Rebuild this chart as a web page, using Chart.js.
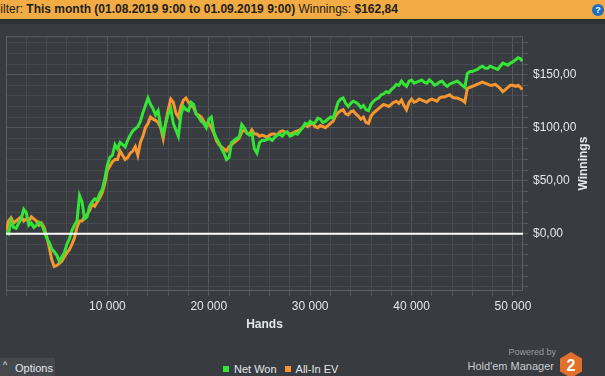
<!DOCTYPE html>
<html>
<head>
<meta charset="utf-8">
<script src="https://cdn.jsdelivr.net/npm/chart.js@4.4.1/dist/chart.umd.min.js"></script>
<style>
  html, body { margin: 0; padding: 0; width: 605px; height: 376px; overflow: hidden; background: #383b3f; font-family: "Liberation Sans", Arial, sans-serif; }
  #topbar { position: absolute; left: 0; top: 0; width: 605px; height: 19px; background: #f2ac43; color: #1e1e1e; font-size: 12px; line-height: 19px; white-space: nowrap; overflow: hidden; }
  #topbar .txt { position: absolute; left: -7px; top: 0; }
  #strip { position: absolute; left: 0; top: 19px; width: 605px; height: 5px; background: #2e3134; }
  #help { position: absolute; left: 592px; top: 4px; width: 12px; height: 12px; border-radius: 50%; background: #1b6cc4; color: #fff; font-size: 9px; font-weight: bold; text-align: center; line-height: 12px; }
  #wrap { position: absolute; left: 0; top: 24px; width: 605px; height: 320px; }
  #options { position: absolute; left: 0; top: 358px; width: 55px; height: 18px; background: #45484c; color: #e4e8ee; font-size: 11px; line-height: 18px; }
  #options .caret { position: absolute; left: 3px; top: -2px; font-size: 9px; }
  #options .lbl { position: absolute; left: 15px; top: 1px; }
  #legend { position: absolute; left: 223px; top: 362px; height: 14px; color: #e4e8ee; font-size: 11px; line-height: 14px; white-space: nowrap; }
  #legend span.sw { display: inline-block; width: 6px; height: 6px; margin-right: 5px; vertical-align: 1px; }
  #legend span.item { margin-right: 8px; }
  #powered { position: absolute; right: 49px; top: 347px; color: #9a9da2; font-size: 9px; text-align: right; }
  #hm { position: absolute; right: 51px; top: 360px; color: #c9ccd1; font-size: 11px; text-align: right; }
  #logo { position: absolute; left: 559px; top: 352px; }
</style>
</head>
<body>
<div id="topbar"><div class="txt">Filter: <b>This month (01.08.2019 9:00 to 01.09.2019 9:00)</b> Winnings: <b>$162,84</b></div><div id="help">?</div></div>
<div id="strip"></div>
<div id="wrap"><canvas id="chartCanvas" width="605" height="320"></canvas></div>
<div id="options"><span class="caret">^</span><span class="lbl">Options</span></div>
<div id="legend"></div>
<div id="powered">Powered by</div>
<div id="hm">Hold'em Manager</div>
<svg id="logo" width="24" height="26" viewBox="0 0 24 26">
  <polygon points="12,0 23,6.5 23,19.5 12,26 1,19.5 1,6.5" fill="#e0702a"/>
  <text x="12" y="19" text-anchor="middle" font-family="Liberation Sans, Arial, sans-serif" font-weight="bold" font-size="16" fill="#ffffff">2</text>
</svg>
<script>
(function() {
  'use strict';

  // hands played (x values)
  var hands = [
    0, 250, 500, 750, 1000, 1250, 1500, 1750, 2000, 2250, 2500, 2750, 3000, 3250, 3500, 3750, 4000, 4250, 4500, 4750,
    5000, 5250, 5500, 5750, 6000, 6250, 6500, 6750, 7000, 7250, 7500, 7750, 8000, 8250, 8500, 8750, 9000, 9250, 9500, 9750,
    10000, 10250, 10500, 10750, 11000, 11250, 11500, 11750, 12000, 12250, 12500, 12750, 13000, 13250, 13500, 13750, 14000, 14250, 14500, 14750,
    15000, 15250, 15500, 15750, 16000, 16250, 16500, 16750, 17000, 17250, 17500, 17750, 18000, 18250, 18500, 18750, 19000, 19250, 19500, 19750,
    20000, 20250, 20500, 20750, 21000, 21250, 21500, 21750, 22000, 22250, 22500, 22750, 23000, 23250, 23500, 23750, 24000, 24250, 24500, 24750,
    25000, 25250, 25500, 25750, 26000, 26250, 26500, 26750, 27000, 27250, 27500, 27750, 28000, 28250, 28500, 28750, 29000, 29250, 29500, 29750,
    30000, 30250, 30500, 30750, 31000, 31250, 31500, 31750, 32000, 32250, 32500, 32750, 33000, 33250, 33500, 33750, 34000, 34250, 34500, 34750,
    35000, 35250, 35500, 35750, 36000, 36250, 36500, 36750, 37000, 37250, 37500, 37750, 38000, 38250, 38500, 38750, 39000, 39250, 39500, 39750,
    40000, 40250, 40500, 40750, 41000, 41250, 41500, 41750, 42000, 42250, 42500, 42750, 43000, 43250, 43500, 43750, 44000, 44250, 44500, 44750,
    45000, 45250, 45500, 45750, 46000, 46250, 46500, 46750, 47000, 47250, 47500, 47750, 48000, 48250, 48500, 48750, 49000, 49250, 49500, 49750,
    50000, 50250, 50500, 50750, 50900
  ];

  var netWon = [
    2, 0, 12, 6, 5, 10, 14, 23, 20, 8, 10, 6, 8, 11, 9, 3, -4, -8, -14, -17,
    -20, -26, -22, -18, -10, -5, 3, 8, 12, 36, 30, 14, 16, 26, 30, 33, 32, 38, 42, 52,
    65, 72, 74, 84, 80, 86, 84, 82, 88, 93, 97, 99, 101, 106, 114, 121, 128, 122, 118, 112,
    116, 102, 94, 104, 113, 118, 104, 98, 92, 112, 120, 117, 116, 124, 122, 113, 110, 106, 104, 100,
    108, 110, 96, 90, 86, 80, 76, 70, 72, 86, 88, 90, 91, 103, 100, 95, 93, 95, 80, 76,
    86, 88, 88, 89, 90, 88, 91, 93, 94, 92, 95, 96, 92, 93, 95, 94, 97, 100, 104, 103,
    106, 104, 105, 109, 108, 105, 106, 108, 110, 109, 116, 124, 127, 128, 123, 120, 123, 125, 124, 122,
    119, 121, 117, 116, 122, 125, 127, 128, 131, 132, 134, 133, 136, 138, 141, 140, 144, 141, 139, 144,
    145, 142, 143, 144, 145, 143, 142, 145, 143, 140, 141, 143, 144, 141, 139, 141, 142, 143, 144, 142,
    140, 138, 151, 153, 153, 154, 155, 157, 158, 156, 156, 158, 157, 156, 155, 158, 161, 160, 159, 161,
    162, 164, 166, 165, 162.84
  ];

  var allInEv = [
    2, 12, 15, 10, 12, 14, 16, 12, 14, 12, 16, 14, 12, 8, 10, 6, -2, -12, -24, -31,
    -30, -28, -26, -22, -18, -15, -10, -4, 6, 12, 12, 16, 18, 22, 28, 26, 30, 34, 39, 48,
    60, 64, 68, 70, 70, 78, 74, 70, 72, 76, 78, 82, 74, 86, 92, 100, 104, 110, 108, 107,
    105, 100, 90, 105, 117, 127, 124, 114, 110, 120, 126, 128, 124, 121, 119, 113, 112, 110, 106, 102,
    104, 100, 95, 88, 84, 82, 80, 78, 82, 84, 86, 88, 90, 96, 98, 95, 94, 98, 94, 94,
    92, 93, 92, 91, 93, 94, 94, 93, 96, 97, 96, 95, 94, 95, 96, 97, 98, 100, 103, 101,
    103, 104, 101, 100, 102, 101, 100, 102, 104, 106, 111, 114, 116, 117, 113, 112, 115, 116, 113, 111,
    108, 110, 105, 104, 111, 114, 116, 118, 120, 122, 121, 120, 122, 124, 125, 123, 126, 121, 117, 124,
    127, 124, 125, 127, 126, 125, 124, 126, 127, 126, 125, 128, 129, 129, 130, 131, 129, 128, 128, 127,
    126, 124, 137, 138, 139, 140, 141, 142, 143, 142, 141, 140, 140, 141, 139, 137, 134, 136, 138, 140,
    140, 139, 140, 138, 136
  ];

  var seriesNames = ['Net Won', 'All-In EV'];
  var xLabelTicks = [10000, 20000, 30000, 40000, 50000];
  var yLabelTicks = [0, 50, 100, 150];
  var xRange = [0, 50990];
  var yRange = [-54, 186.3];
  var xStep = 2000;
  var yStep = 10;

  var GREEN = '#35e436';
  var ORANGE = '#f6962f';
  var GRID = '#46494d';
  var GRID_MAJOR = '#54575b';
  var FRAME = '#5c5f63';
  var TEXT = '#e2e7ef';

  function pairs(ys) {
    return hands.map(function(h, i) { return { x: h, y: ys[i] }; });
  }

  function fmtHands(v) {
    return String(v).replace(/\B(?=(\d{3})+(?!\d))/g, ' ');
  }

  function fmtMoney(v) {
    return '$' + v.toFixed(2).replace('.', ',');
  }

  var framePlugin = {
    id: 'frame',
    beforeDatasetsDraw: function(chart) {
      var a = chart.chartArea, ctx = chart.ctx;
      ctx.save();
      ctx.strokeStyle = FRAME;
      ctx.lineWidth = 1;
      ctx.strokeRect(a.left + 0.5, a.top + 0.5, a.right - a.left - 1, a.bottom - a.top - 1);
      ctx.restore();
    },
    afterDatasetsDraw: function(chart) {
      var a = chart.chartArea, ctx = chart.ctx;
      var y0 = chart.scales.y.getPixelForValue(0);
      ctx.save();
      ctx.strokeStyle = '#ffffff';
      ctx.lineWidth = 2;
      ctx.beginPath();
      ctx.moveTo(a.left, y0);
      ctx.lineTo(a.right, y0);
      ctx.stroke();
      ctx.restore();
    },
    afterDraw: function(chart) {
      var a = chart.chartArea, ctx = chart.ctx;
      ctx.save();
      ctx.translate(583.5, (a.top + a.bottom) / 2);
      ctx.rotate(-Math.PI / 2);
      ctx.fillStyle = TEXT;
      ctx.font = 'bold 12px "Liberation Sans", Arial, sans-serif';
      ctx.textAlign = 'center';
      ctx.textBaseline = 'middle';
      ctx.fillText('Winnings', 0, 0);
      ctx.restore();
    }
  };

  function init() {
    var legend = document.getElementById('legend');
    var swatches = [GREEN, ORANGE];
    legend.innerHTML = seriesNames.map(function(n, i) {
      return '<span class="item"><span class="sw" style="background:' + swatches[i] + '"></span>' + n + '</span>';
    }).join('');

    var ctx = document.getElementById('chartCanvas').getContext('2d');
    new Chart(ctx, {
      type: 'line',
      data: {
        datasets: [
          { label: seriesNames[0], data: pairs(netWon), borderColor: GREEN, borderWidth: 3, pointRadius: 0, tension: 0, fill: false },
          { label: seriesNames[1], data: pairs(allInEv), borderColor: ORANGE, borderWidth: 3, pointRadius: 0, tension: 0, fill: false }
        ]
      },
      options: {
        responsive: false,
        animation: false,
        layout: { padding: { left: 6, top: 9, right: 0, bottom: 0 } },
        plugins: { legend: { display: false }, tooltip: { enabled: false } },
        scales: {
          x: {
            type: 'linear',
            min: xRange[0],
            max: xRange[1],
            afterBuildTicks: function(scale) {
              var t = [];
              for (var v = xRange[0]; v <= xRange[1]; v += xStep) t.push({ value: v });
              scale.ticks = t;
            },
            afterFit: function(scale) { scale.height = 53; },
            border: { display: false },
            grid: {
              color: function(c) { return c.tick && xLabelTicks.indexOf(c.tick.value) >= 0 ? GRID_MAJOR : GRID; },
              tickColor: GRID_MAJOR,
              tickLength: 5
            },
            ticks: {
              autoSkip: false,
              maxRotation: 0,
              padding: 3,
              color: TEXT,
              font: { family: '"Liberation Sans", Arial, sans-serif', size: 12 },
              callback: function(v) { return xLabelTicks.indexOf(v) >= 0 ? fmtHands(v) : ''; }
            },
            title: {
              display: true,
              text: 'Hands',
              color: TEXT,
              font: { family: '"Liberation Sans", Arial, sans-serif', size: 12, weight: 'bold' },
              padding: { top: 0, bottom: 12 }
            }
          },
          y: {
            type: 'linear',
            position: 'right',
            min: yRange[0],
            max: yRange[1],
            afterBuildTicks: function(scale) {
              var t = [];
              for (var v = -50; v <= 180; v += yStep) t.push({ value: v });
              scale.ticks = t;
            },
            afterFit: function(scale) { scale.width = 82; },
            border: { display: false },
            grid: {
              color: function(c) { return c.tick && yLabelTicks.indexOf(c.tick.value) >= 0 ? GRID_MAJOR : GRID; },
              tickColor: GRID_MAJOR,
              tickLength: 5
            },
            ticks: {
              autoSkip: false,
              padding: 5,
              color: TEXT,
              font: { family: '"Liberation Sans", Arial, sans-serif', size: 12 },
              callback: function(v) { return yLabelTicks.indexOf(v) >= 0 ? fmtMoney(v) : ''; }
            },
            title: { display: false }
          }
        }
      },
      plugins: [framePlugin]
    });
  }

  document.addEventListener('DOMContentLoaded', init);
})();
</script>
</body>
</html>
